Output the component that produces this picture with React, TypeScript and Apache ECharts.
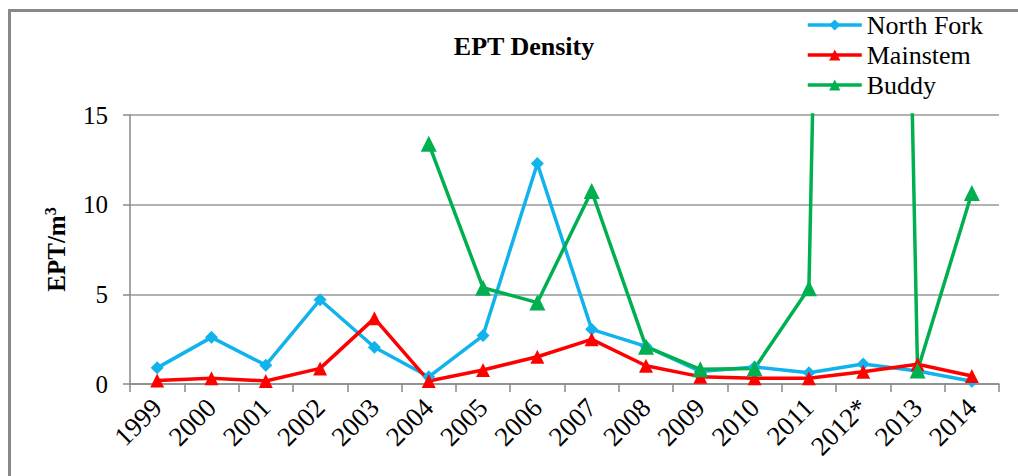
import React, { useEffect, useRef } from "react";
import * as echarts from "echarts";

const categories = ["1999", "2000", "2001", "2002", "2003", "2004", "2005", "2006", "2007", "2008", "2009", "2010", "2011", "2012*", "2013", "2014"];
const northFork = [0.9, 2.6, 1.05, 4.7, 2.05, 0.4, 2.7, 12.3, 3.05, 2.1, 0.7, 0.95, 0.63, 1.12, 0.72, 0.15];
const mainstem = [0.2, 0.32, 0.17, 0.87, 3.66, 0.17, 0.78, 1.52, 2.49, 1.02, 0.41, 0.32, 0.32, 0.68, 1.1, 0.45];
const buddy = [null, null, null, null, null, 13.4, 5.37, 4.54, 10.76, 2.08, 0.82, 0.87, 5.34, 150, 0.75, 10.65];
const yTicks = { min: 0, max: 15, interval: 5 };

const FONT = '"Liberation Serif", "Times New Roman", serif';

export default function App() {
  const ref = useRef<HTMLDivElement>(null);
  useEffect(() => {
    const chart = echarts.init(ref.current!, null, { renderer: "svg" });
    const mk = (name: string, data: any[], color: string, symbol: string, size: number) => ({
      name,
      type: "line",
      data,
      connectNulls: false,
      clip: true,
      symbol,
      symbolSize: size,
      lineStyle: { color, width: 3.5 },
      itemStyle: { color },
      z: 3,
    });
    chart.setOption({
      animation: false,
      backgroundColor: "#ffffff",
      title: {
        text: "EPT Density",
        left: 519,
        top: 28,
        textAlign: "center",
        textStyle: { fontFamily: FONT, fontWeight: "bold", fontSize: 26, color: "#000" },
      },
      legend: {
        orient: "vertical",
        left: 801,
        top: 7,
        itemWidth: 54,
        itemHeight: 14,
        itemGap: 4,
        lineStyle: { width: 3.5 },
        textStyle: { fontFamily: FONT, fontSize: 26, color: "#000" },
        data: ["North Fork", "Mainstem", "Buddy"],
      },
      grid: { left: 130, right: 19, top: 115, bottom: 92 },
      xAxis: {
        type: "category",
        data: categories,
        boundaryGap: true,
        axisLine: { lineStyle: { color: "#888", width: 1.5 } },
        axisTick: { show: true, length: 8, lineStyle: { color: "#888", width: 1.5 } },
        axisLabel: { rotate: 45, fontFamily: FONT, fontSize: 27, color: "#000", margin: 19, interval: 0 },
      },
      yAxis: {
        type: "value",
        min: yTicks.min,
        max: yTicks.max,
        interval: yTicks.interval,
        name: "EPT/m{sup|3}",
        nameLocation: "middle",
        nameGap: 60,
        nameRotate: 90,
        nameTextStyle: {
          fontFamily: FONT,
          fontWeight: "bold",
          fontSize: 25,
          color: "#000",
          rich: { sup: { fontFamily: FONT, fontWeight: "bold", fontSize: 16, verticalAlign: "top", padding: [0, 0, 12, 0] } },
        },
        axisLine: { show: true, lineStyle: { color: "#888", width: 1.5 } },
        axisTick: { show: true, length: 7, lineStyle: { color: "#888", width: 1.5 } },
        axisLabel: { fontFamily: FONT, fontSize: 25, color: "#000", margin: 22 },
        splitLine: { lineStyle: { color: "#999", width: 1.5 } },
      },
      series: [
        mk("North Fork", northFork, "#12B2EC", "diamond", 13),
        mk("Mainstem", mainstem, "#FF0000", "triangle", 14),
        mk("Buddy", buddy, "#00B050", "triangle", 16),
      ],
      graphic: [
        {
          type: "rect",
          shape: { x: 9.5, y: 10.5, width: 1100, height: 600 },
          style: { fill: "none", stroke: "#888", lineWidth: 3 },
          silent: true,
        },
      ],
    });
    return () => chart.dispose();
  }, []);
  return <div ref={ref} style={{ position: "fixed", left: 0, top: 0, width: 1018, height: 476 }} />;
}
